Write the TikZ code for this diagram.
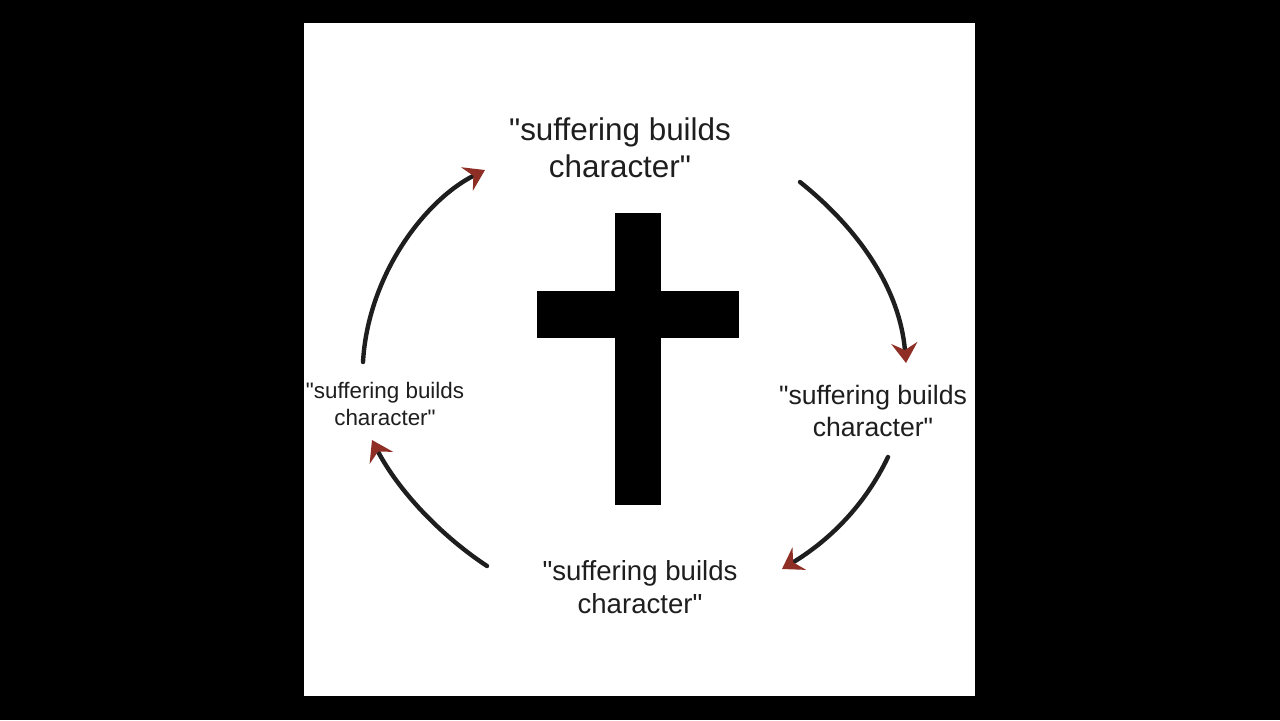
\documentclass[tikz,border=0pt]{standalone}
\usepackage{fontspec}
\setmainfont{Liberation Sans}
\usetikzlibrary{arrows.meta}
\definecolor{tipred}{HTML}{8E2E24}
\definecolor{ink}{HTML}{1E1E1E}
\newcommand{\sbc}{\textquotedbl suffering builds\\character\textquotedbl}
\tikzset{
  quote/.style={align=center, inner sep=0pt, text=ink},
  loop/.style={draw=ink, line width=2.2pt, line cap=round,
    -{Stealth[length=10pt, width=13pt, inset=3.5pt, color=tipred]}},
  crossbar/.style={fill=black, draw=none}
}
\begin{document}
\begin{tikzpicture}[x=0.5pt, y=-0.5pt]
\useasboundingbox (0,0) rectangle (1280,720);
\fill[black] (0,0) rectangle (1280,720);
\fill[white] (304,23) rectangle (975,696);
% cross
\fill[crossbar] (615,213) rectangle (661,505);
\fill[crossbar] (537,291) rectangle (739,338);
% texts
\node[quote, font=\fontsize{15.7pt}{18.5pt}\selectfont] (top) at (620,148) {\sbc};
\node[quote, font=\fontsize{13.3pt}{16pt}\selectfont] (right) at (873,411) {\sbc};
\node[quote, font=\fontsize{13.8pt}{16.5pt}\selectfont] (bottom) at (640,587) {\sbc};
\node[quote, font=\fontsize{11.2pt}{13.5pt}\selectfont] (left) at (385,404) {\sbc};
% arrow ends
\coordinate (a1s) at (800,182);
\coordinate (a1e) at (906,363);
\coordinate (a2s) at (888,457);
\coordinate (a2e) at (782,569);
\coordinate (a3s) at (487,566);
\coordinate (a3e) at (372,440);
\coordinate (a4s) at (363,362);
\coordinate (a4e) at (485,170);
\draw[loop] (a1s) .. controls (860,230) and (900,290) .. (a1e);
\draw[loop] (a2s) .. controls (865,505) and (830,540) .. (a2e);
\draw[loop] (a3s) .. controls (440,535) and (398,490) .. (a3e);
\draw[loop] (a4s) .. controls (368,275) and (425,200) .. (a4e);
\end{tikzpicture}
\end{document}
